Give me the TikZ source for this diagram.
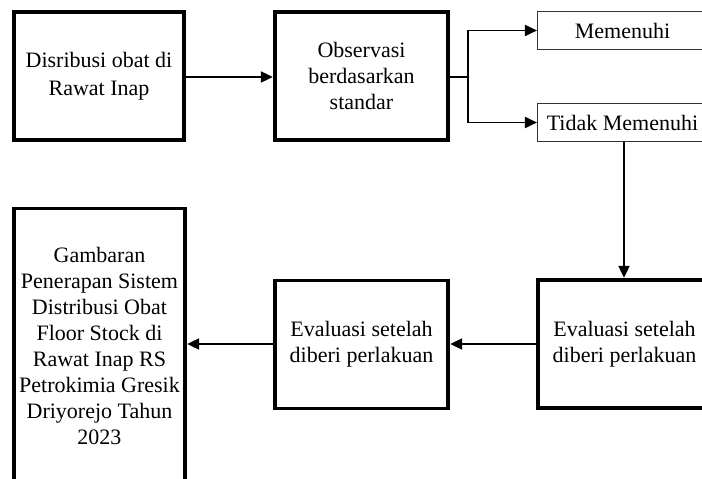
\documentclass[tikz,border=0pt]{standalone}
\usepackage{fontspec}
\setmainfont{Liberation Serif}
\usetikzlibrary{arrows.meta}
\begin{document}
\begin{tikzpicture}[x=1pt,y=-1pt,
  thickbox/.style={draw=black,line width=3.8pt,align=center,inner sep=0pt,
    font=\fontsize{22}{26}\selectfont},
  thinbox/.style={draw=black!80,line width=1.1pt,align=center,inner sep=0pt,
    font=\fontsize{22}{26}\selectfont},
  arr/.style={line width=1.9pt,-{Triangle[length=12pt,width=11pt]}}]
\useasboundingbox (0,0) rectangle (702,479);
\clip (0,0) rectangle (702,479);
\node[thickbox,minimum width=170.5pt,minimum height=128.5pt,
  font=\fontsize{22}{28}\selectfont] (b1) at (99,76)
  {Disribusi obat di\\Rawat Inap};
\node[thickbox,minimum width=173.5pt,minimum height=128.5pt] (b2) at (361.5,76)
  {Observasi\\berdasarkan\\standar};
\node[thinbox,minimum width=170pt,minimum height=38.5pt] (m) at (622.5,30.5)
  {Memenuhi};
\node[thinbox,minimum width=170pt,minimum height=38.5pt] (tm) at (622.5,122.5)
  {Tidak Memenuhi};
\node[thickbox,minimum width=173pt,minimum height=128.5pt] (e1) at (624.5,344)
  {Evaluasi setelah\\diberi perlakuan};
\node[thickbox,minimum width=173.5pt,minimum height=128pt] (e2) at (361.5,344.5)
  {Evaluasi setelah\\diberi perlakuan};
\node[thickbox,minimum width=171.5pt,minimum height=275pt] (g) at (99.5,346)
  {Gambaran\\Penerapan Sistem\\Distribusi Obat\\Floor Stock di\\Rawat Inap RS\\Petrokimia Gresik\\Driyorejo Tahun\\2023};
\coordinate (fork) at (468,77);
\draw[arr] (b1.east |- 0,77) -- (b2.west |- 0,77);
\draw[line width=1.9pt] (b2.east |- fork) -- (fork);
\draw[arr] (fork) |- (m.west);
\draw[arr] (fork) |- (tm.west);
\draw[arr] (tm.south -| 624,0) -- (e1.north -| 624,0);
\draw[arr] (e1.west |- 0,344) -- (e2.east |- 0,344);
\draw[arr] (e2.west |- 0,344) -- (g.east |- 0,344);
\end{tikzpicture}
\end{document}
